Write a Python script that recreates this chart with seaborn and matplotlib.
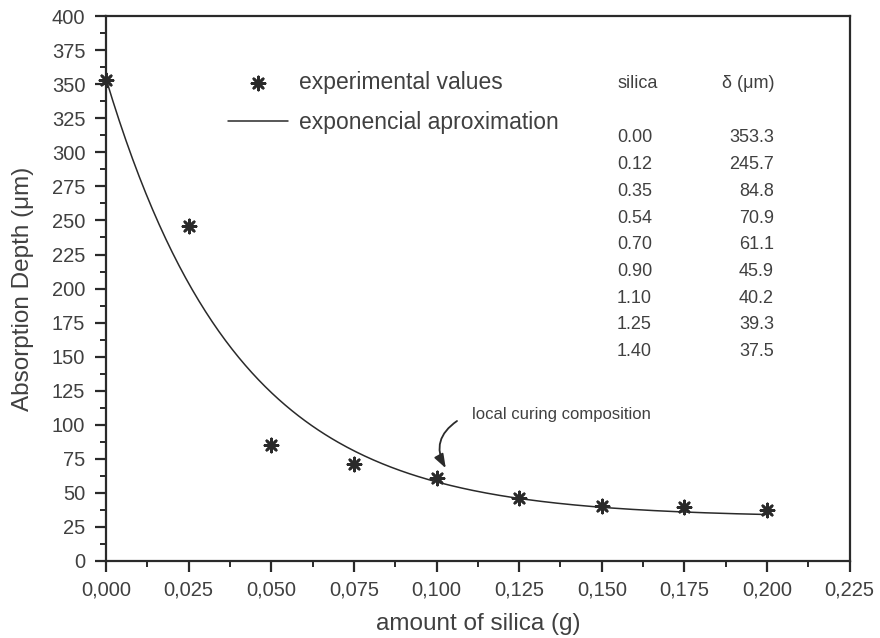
import numpy as np
import pandas as pd
import matplotlib
matplotlib.use("Agg")
import matplotlib.pyplot as plt
from matplotlib.ticker import MultipleLocator, FuncFormatter
import seaborn as sns

# Measured absorption depth vs. amount of silica
silica_g = [0.000, 0.025, 0.050, 0.075, 0.100, 0.125, 0.150, 0.175, 0.200]
depth_um = [353.3, 245.7, 84.8, 70.9, 61.1, 45.9, 40.2, 39.3, 37.5]

# Table of composition vs. depth
table_silica = ["0.00", "0.12", "0.35", "0.54", "0.70", "0.90", "1.10", "1.25", "1.40"]
table_depth = ["353.3", "245.7", "84.8", "70.9", "61.1", "45.9", "40.2", "39.3", "37.5"]

# Exponential decay fit: y = y0 + A * exp(-x / t)
fit_y0 = 32.0
fit_A = 322.0
fit_t = 0.0398

sns.set_theme(style="ticks")
plt.rcParams["font.family"] = ["Liberation Sans", "DejaVu Sans"]
ink = "#2a2a2a"
txt = "#404040"

fig = plt.figure(figsize=(8.8, 6.38), dpi=100)
ax = fig.add_axes([0.1205, 0.1207, 0.845, 0.854])

pts = pd.DataFrame({"silica": silica_g, "depth": depth_um})
x_fit = np.linspace(0, max(silica_g), 300)
fit = pd.DataFrame({"silica": x_fit, "depth": fit_y0 + fit_A * np.exp(-x_fit / fit_t)})

sns.lineplot(data=fit, x="silica", y="depth", ax=ax, color=ink, linewidth=1.1,
             label="exponencial aproximation")
sns.scatterplot(data=pts, x="silica", y="depth", ax=ax, marker=(8, 2, 0), s=90,
                color=ink, edgecolor=ink, linewidth=1.9, label="experimental values",
                zorder=3, clip_on=False)

ax.set_xlim(0, 0.225)
ax.set_ylim(0, 400)
ax.xaxis.set_major_locator(MultipleLocator(0.025))
ax.xaxis.set_minor_locator(MultipleLocator(0.0125))
ax.yaxis.set_major_locator(MultipleLocator(25))
ax.yaxis.set_minor_locator(MultipleLocator(12.5))
ax.xaxis.set_major_formatter(FuncFormatter(lambda v, p: f"{v:.3f}".replace(".", ",")))
ax.yaxis.set_major_formatter(FuncFormatter(lambda v, p: f"{v:.0f}"))

for s in ax.spines.values():
    s.set_visible(True)
    s.set_linewidth(1.6)
    s.set_color(ink)
ax.tick_params(which="major", direction="out", length=8, width=1.6, color=ink,
               labelsize=14.5, labelcolor=txt)
ax.tick_params(which="minor", direction="out", length=4, width=1.4, color=ink)
ax.tick_params(axis="x", which="major", pad=6)
ax.tick_params(axis="y", which="major", pad=7)
ax.tick_params(top=False, right=False, which="both")

ax.set_xlabel("amount of silica (g)", fontsize=17.5, color=txt, labelpad=10)
ax.set_ylabel("Absorption Depth (\u03bcm)", fontsize=17.5, color=txt, labelpad=13)

handles, labels = ax.get_legend_handles_labels()
order = [labels.index("experimental values"), labels.index("exponencial aproximation")]
leg = ax.legend([handles[i] for i in order], [labels[i] for i in order],
                loc="upper left", bbox_to_anchor=(0.1485, 0.9195), frameon=False,
                fontsize=16.5, handlelength=2.6, handletextpad=0.48, labelspacing=0.71,
                borderpad=0.0)
for t in leg.get_texts():
    t.set_color(txt)

# Composition table
def px_to_data(px, py):
    return ax.transData.inverted().transform(fig.transFigure.transform((px / 880, 1 - py / 638)))

hx, hy = px_to_data(617, 84)
ax.text(hx, hy, "silica", fontsize=13, color=txt, va="center", ha="left")
rx, _ = px_to_data(774, 84)
ax.text(rx, hy, "\u03b4 (\u03bcm)", fontsize=13, color=txt, va="center", ha="right")
for i, (a, b) in enumerate(zip(table_silica, table_depth)):
    _, ry = px_to_data(0, 138 + i * 26.7)
    ax.text(hx, ry, a, fontsize=13, color=txt, va="center", ha="left")
    ax.text(rx, ry, b, fontsize=13, color=txt, va="center", ha="right")

# Callout on the local curing composition
tx, ty = px_to_data(472, 414)
ax.text(tx, ty, "local curing composition", fontsize=12, color=txt, ha="left", va="center")
sx, sy = px_to_data(457, 421)
ax.annotate("", xy=(silica_g[4] + 0.0028, depth_um[4] + 7), xytext=(sx, sy),
            arrowprops=dict(arrowstyle="-|>,head_length=0.7,head_width=0.25",
                            color=ink, lw=1.3, shrinkA=0, shrinkB=0,
                            connectionstyle="arc3,rad=0.45"))

fig.savefig("out.png", dpi=100)
